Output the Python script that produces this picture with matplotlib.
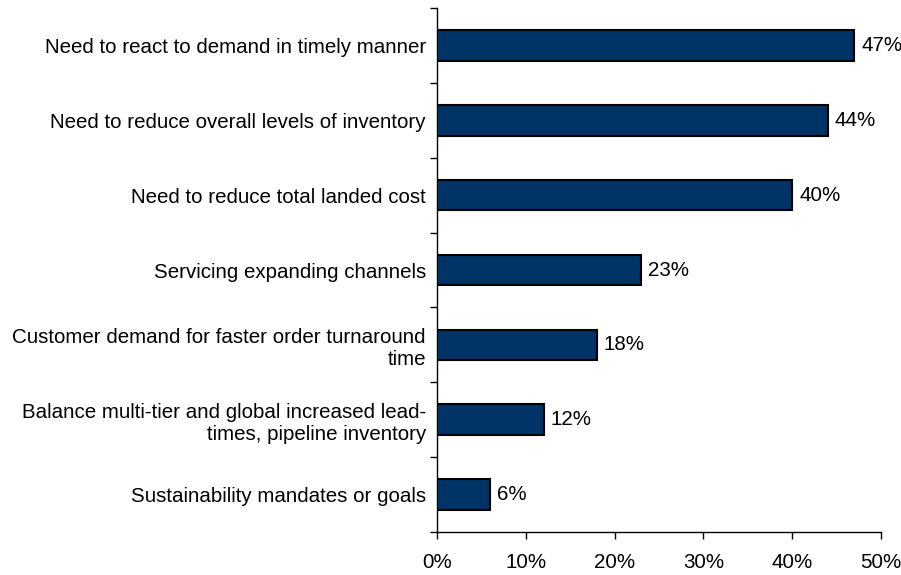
import matplotlib
matplotlib.use("Agg")
import matplotlib.pyplot as plt
import numpy as np
from matplotlib.ticker import FuncFormatter

plt.rcParams['font.family'] = ['Liberation Sans', 'DejaVu Sans']

categories = [
    "Need to react to demand in timely manner",
    "Need to reduce overall levels of inventory",
    "Need to reduce total landed cost",
    "Servicing expanding channels",
    "Customer demand for faster order turnaround\ntime",
    "Balance multi-tier and global increased lead-\ntimes, pipeline inventory",
    "Sustainability mandates or goals",
]
values = [47, 44, 40, 23, 18, 12, 6]
xticks = [0, 10, 20, 30, 40, 50]

FS = 14.8

fig = plt.figure(figsize=(9.01, 5.75), dpi=100)
ax = fig.add_axes([437/901, 1 - 532/575, (881-437)/901, (532-8)/575])

n = len(categories)
y = np.arange(n)
ax.barh(y, values, height=0.41, color='#003366', edgecolor='black', linewidth=1.5, zorder=3)
for yi, v in zip(y, values):
    ax.text(v + 0.8, yi, f"{v}%", va='center', ha='left', fontsize=FS)

ax.set_ylim(n - 0.5, -0.5)
ax.set_xlim(0, 50)
ax.set_yticks(y)
ax.set_yticklabels(categories, fontsize=FS, ha='right', linespacing=1.2)
ax.set_yticks(np.arange(n + 1) - 0.5, minor=True)
ax.tick_params(axis='y', which='major', length=0, pad=8)
ax.tick_params(axis='y', which='minor', length=5, width=1, direction='out')
ax.set_xticks(xticks)
ax.xaxis.set_major_formatter(FuncFormatter(lambda v, p: f"{int(v)}%"))
ax.tick_params(axis='x', length=5, width=1, direction='out', labelsize=FS, pad=10)

for s in ['top', 'right']:
    ax.spines[s].set_visible(False)
for s in ['left', 'bottom']:
    ax.spines[s].set_linewidth(1)

fig.savefig("out.png", dpi=100)
